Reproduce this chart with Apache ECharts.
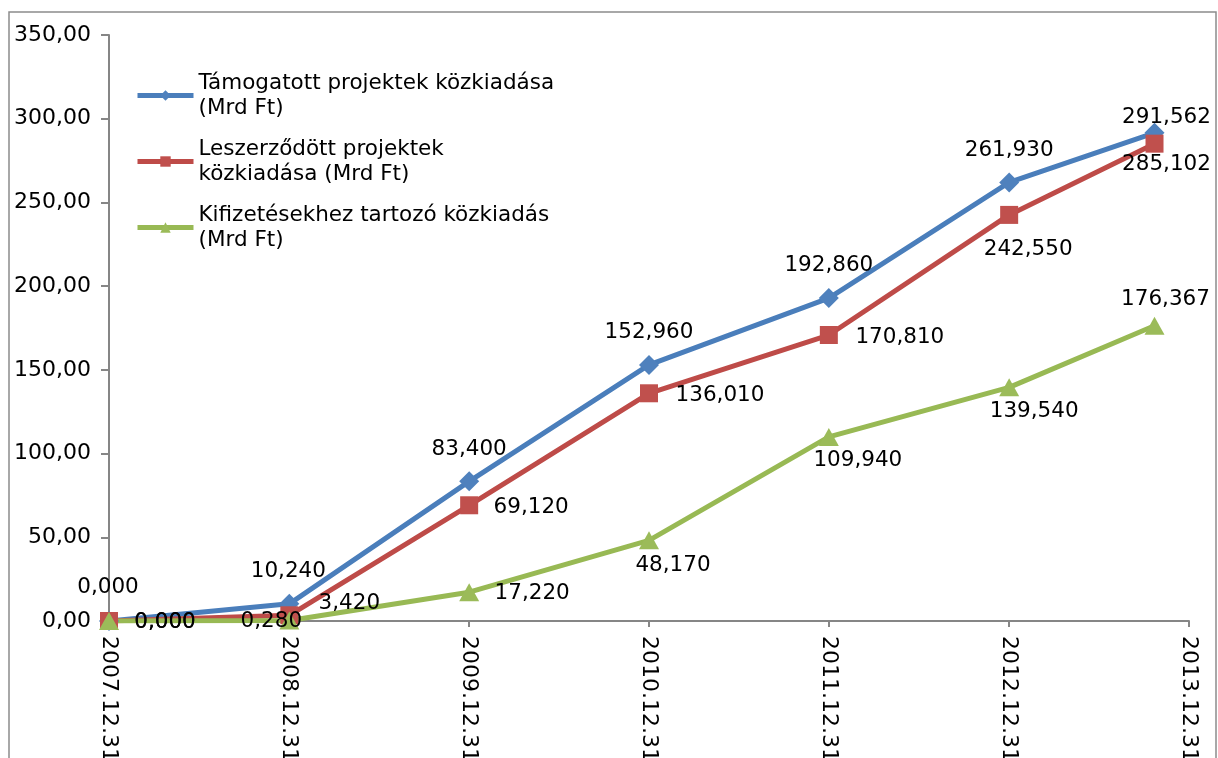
<!DOCTYPE html>
<html>
<head>
<meta charset="utf-8">
<script src="https://cdn.jsdelivr.net/npm/echarts@6/dist/echarts.min.js"></script>
<style>
html,body{margin:0;padding:0;background:#fff;}
#chart{width:1218px;height:758px;}
</style>
</head>
<body>
<div id="chart"></div>
<script>
// ---- data ----
const dates = ['2007.12.31','2008.12.31','2009.12.31','2010.12.31','2011.12.31','2012.12.31','2013.10.22'];
const tickLabels = ['2007.12.31','2008.12.31','2009.12.31','2010.12.31','2011.12.31','2012.12.31','2013.12.31'];
const seriesNames = [
  'Támogatott projektek közkiadása\n(Mrd Ft)',
  'Leszerződött projektek\nközkiadása (Mrd Ft)',
  'Kifizetésekhez tartozó közkiadás\n(Mrd Ft)'
];
const tamogatott = [0.000, 10.240, 83.400, 152.960, 192.860, 261.930, 291.562];
const leszerzodott = [0.000, 3.420, 69.120, 136.010, 170.810, 242.550, 285.102];
const kifizetes = [0.000, 0.280, 17.220, 48.170, 109.940, 139.540, 176.367];
const yTicks = [0, 50, 100, 150, 200, 250, 300, 350];

// ---- label placement (style) ----
const offsetsBlue  = [[-1,-34],[-1,-32],[0,-32],[0,-32],[0,-33],[0,-32],[12,-15]];
const offsetsRed   = [[56,1],[60,-12],[62,2],[71,2],[71,2],[19,35],[12,21]];
const offsetsGreen = [[56,1],[-18,1],[63,1],[24,25],[29,23],[25,24],[11,-26]];

function parseDate(s){ const p = s.split('.').map(Number); return Date.UTC(p[0], p[1]-1, p[2]); }
const t0 = parseDate(tickLabels[0]);
const tN = parseDate(tickLabels[tickLabels.length-1]);
const span = tickLabels.length - 1;
function toPos(s){ return (parseDate(s) - t0) / (tN - t0) * span; }
const fmt3 = v => v.toFixed(3).replace('.', ',');
const fmt2 = v => v.toFixed(2).replace('.', ',');

function build(values, offsets){
  return values.map((v, i) => ({
    value: [toPos(dates[i]), v],
    label: { offset: offsets[i] }
  }));
}

const FONT = 'DejaVu Sans';
const labelCommon = {
  show: true, position: 'inside', fontFamily: FONT, fontSize: 21.5, color: '#000',
  formatter: p => fmt3(p.value[1])
};

const chart = echarts.init(document.getElementById('chart'), null, {renderer: 'canvas'});
chart.setOption({
  animation: false,
  backgroundColor: '#fff',
  graphic: [{
    type: 'rect', shape: {x: 9, y: 12, width: 1207, height: 800},
    style: {fill: 'none', stroke: '#8c8c8c', lineWidth: 1.5}, silent: true, z: -10
  }],
  grid: {left: 109, right: 29, top: 35, bottom: 137, containLabel: false, outerBoundsMode: 'none'},
  legend: {
    orient: 'vertical', left: 135, top: 58, padding: 0,
    itemWidth: 56, itemHeight: 13, itemGap: -9,
    lineStyle: {width: 5},
    textStyle: {fontFamily: FONT, fontSize: 21.5, color: '#000', lineHeight: 25, padding: [25, 0, 0, 0]},
    data: seriesNames
  },
  xAxis: {
    type: 'value', min: 0, max: span, interval: 1,
    axisLine: {lineStyle: {color: '#868686', width: 2}},
    axisTick: {show: true, length: 6, lineStyle: {color: '#868686', width: 2}},
    splitLine: {show: false},
    axisLabel: {
      rotate: -90, margin: 15, fontFamily: FONT, fontSize: 22, color: '#000',
      formatter: v => tickLabels[Math.round(v)]
    }
  },
  yAxis: {
    type: 'value', min: yTicks[0], max: yTicks[yTicks.length-1], interval: 50,
    axisLine: {show: true, lineStyle: {color: '#868686', width: 2}},
    axisTick: {show: true, length: 8, lineStyle: {color: '#868686', width: 2}},
    splitLine: {show: false},
    axisLabel: {margin: 18, fontFamily: FONT, fontSize: 22, color: '#000', formatter: v => fmt2(v)}
  },
  series: [
    {
      name: seriesNames[0], type: 'line', data: build(tamogatott, offsetsBlue),
      symbol: 'diamond', symbolSize: 20,
      lineStyle: {color: '#4A7EBB', width: 5},
      itemStyle: {color: '#4F81BD'},
      label: labelCommon
    },
    {
      name: seriesNames[1], type: 'line', data: build(leszerzodott, offsetsRed),
      symbol: 'rect', symbolSize: 18,
      lineStyle: {color: '#BE4B48', width: 5},
      itemStyle: {color: '#C0504D'},
      label: labelCommon
    },
    {
      name: seriesNames[2], type: 'line', data: build(kifizetes, offsetsGreen),
      symbol: 'triangle', symbolSize: [20, 18],
      lineStyle: {color: '#98B954', width: 5},
      itemStyle: {color: '#9BBB59'},
      label: labelCommon
    }
  ]
});
</script>
</body>
</html>
